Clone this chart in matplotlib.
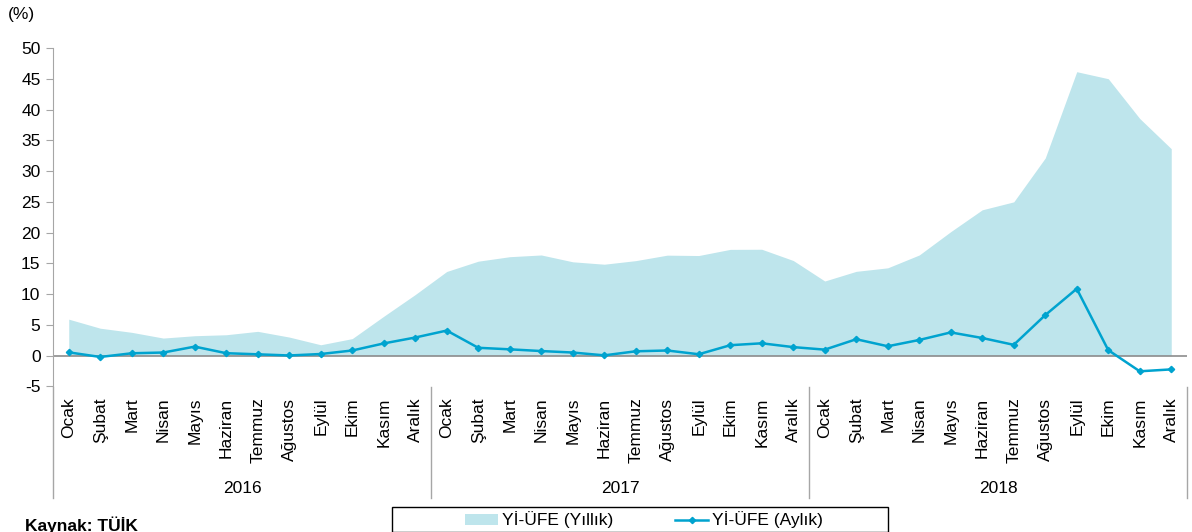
import numpy as np
import matplotlib
matplotlib.use("Agg")
import matplotlib.pyplot as plt
from matplotlib.patches import Rectangle
import matplotlib.transforms as mtransforms

plt.rcParams['font.family'] = ['Liberation Sans', 'DejaVu Sans']
plt.rcParams['axes.unicode_minus'] = False

months = ["Ocak", "Şubat", "Mart", "Nisan", "Mayıs", "Haziran", "Temmuz",
          "Ağustos", "Eylül", "Ekim", "Kasım", "Aralık"]
years = ["2016", "2017", "2018"]

# Yİ-ÜFE annual change (%)
yillik = [5.94, 4.47, 3.80, 2.87, 3.25, 3.41, 3.96, 3.03, 1.78, 2.78, 6.41, 9.94,
          13.69, 15.36, 16.09, 16.37, 15.26, 14.87, 15.45, 16.34, 16.28, 17.28, 17.30, 15.47,
          12.14, 13.71, 14.28, 16.37, 20.16, 23.71, 25.00, 32.13, 46.15, 45.01, 38.54, 33.64]
# Yİ-ÜFE monthly change (%)
aylik = [0.55, -0.20, 0.40, 0.52, 1.48, 0.41, 0.23, 0.04, 0.28, 0.85, 2.00, 2.96,
         4.09, 1.29, 1.04, 0.76, 0.52, 0.06, 0.72, 0.85, 0.24, 1.71, 2.02, 1.40,
         0.99, 2.68, 1.54, 2.56, 3.79, 2.88, 1.77, 6.60, 10.88, 0.91, -2.53, -2.22]

area_color = "#bee5ec"
line_color = "#00a3cf"
grey = "#a6a6a6"
fs = 12.5

W, H = 1192, 532
fig = plt.figure(figsize=(W / 100, H / 100), dpi=100)
ax = fig.add_axes([53 / W, 1 - 386.5 / H, (1187 - 53) / W, (386.5 - 48) / H])

x = np.arange(len(yillik))
ax.fill_between(x, 0, yillik, color=area_color, linewidth=0, label="Yİ-ÜFE (Yıllık)")
ax.plot(x, aylik, color=line_color, lw=1.8, marker="D", ms=3.2,
        label="Yİ-ÜFE (Aylık)")
ax.axhline(0, color="#8c8c8c", lw=1.2, zorder=1)

ax.set_xlim(-0.5, len(x) - 0.5)
ax.set_ylim(-5, 50)
ax.set_yticks(np.arange(-5, 51, 5))
ax.tick_params(axis="y", length=5, color=grey, labelsize=fs, pad=4)

ax.set_xticks(x)
ax.set_xticklabels(months * len(years), rotation=90, fontsize=fs)
ax.tick_params(axis="x", length=0, pad=8)

for s in ["top", "right", "bottom"]:
    ax.spines[s].set_visible(False)
ax.spines["left"].set_color(grey)

# year group separators and labels
trans = mtransforms.blended_transform_factory(ax.transData, ax.transAxes)
for b in [-0.5, 11.5, 23.5, 35.5]:
    ax.plot([b, b], [0.0, -0.33], color=grey, lw=1.0, transform=trans, clip_on=False)
for i, yr in enumerate(years):
    ax.text(i * 12 + 5.5, -0.30, yr, transform=trans, ha="center", va="center", fontsize=fs)

# legend in a plain box
fig.patches.append(Rectangle((392 / W, 0), (888 - 392) / W, (532 - 507) / H,
                             transform=fig.transFigure, fill=False,
                             edgecolor="black", lw=1.0))
fig.legend(loc="center", bbox_to_anchor=(644 / W, 1 - 520 / H), ncol=2, frameon=False,
           fontsize=fs, handlelength=1.9, handleheight=0.55, columnspacing=3.6,
           handletextpad=0.2)

fig.text(8 / W, 1 - 15 / H, "(%)", fontsize=fs, va="center", ha="left")
fig.text(25 / W, 1 - 516 / H, "Kaynak: TÜİK", fontsize=fs, fontweight="bold",
         va="top", ha="left")

fig.savefig("out.png", dpi=100)
